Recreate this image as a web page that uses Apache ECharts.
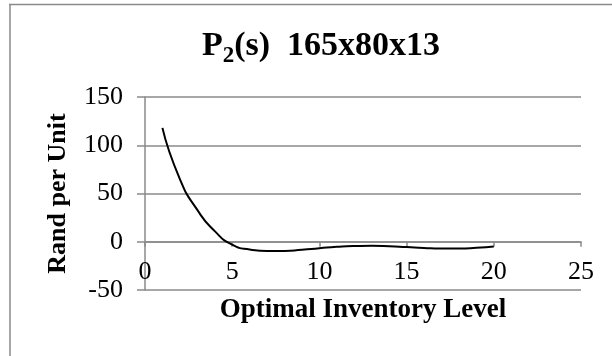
<!DOCTYPE html>
<html>
<head>
<meta charset="utf-8">
<script src="https://cdn.jsdelivr.net/npm/echarts@6/dist/echarts.min.js"></script>
<style>html,body{margin:0;padding:0;background:#fff}#c{width:612px;height:356px}</style>
</head>
<body>
<div id="c"></div>
<script>
var inventoryLevels = [1,2,3,4,5,6,7,8,9,10,11,12,13,14,15,16,17,18,19,20];
var randPerUnit = [118,65,33,11,-3,-8,-9.5,-9.5,-8.3,-6.7,-5.2,-4.4,-4.2,-4.6,-5.5,-6.5,-7,-7,-6.3,-4.8];
var xTicks = {min:0, max:25, interval:5};
var yTicks = {min:-50, max:150, interval:50};
var titleMain = 'P', titleSub = '2', titleRest = '(s)  165x80x13';
var xName = 'Optimal Inventory Level';
var yName = 'Rand per Unit';

var serif = '"Liberation Serif","Times New Roman",serif';
var chart = echarts.init(document.getElementById('c'), null, {renderer:'canvas'});
chart.setOption({
  animation:false,
  backgroundColor:'#fff',
  title:{
    text:'{a|'+titleMain+'}{s|'+titleSub+'}{a|'+titleRest+'}',
    left:316, top:20, textAlign:'center',
    textStyle:{
      rich:{
        a:{fontFamily:serif,fontWeight:'bold',fontSize:34,color:'#000'},
        s:{fontFamily:serif,fontWeight:'bold',fontSize:23,color:'#000',padding:[20,0,0,0]}
      }
    }
  },
  graphic:[
    {type:'line',shape:{x1:9,y1:4.5,x2:612,y2:4.5},style:{stroke:'#8a8a8a',lineWidth:1.5},silent:true},
    {type:'line',shape:{x1:10,y1:4,x2:10,y2:356},style:{stroke:'#8a8a8a',lineWidth:1.5},silent:true}
  ],
  grid:{left:145,right:31,top:97,bottom:66,containLabel:false,outerBoundsMode:'none'},
  xAxis:{
    type:'value',min:xTicks.min,max:xTicks.max,interval:xTicks.interval,
    name:xName,nameLocation:'middle',nameGap:7,nameMoveOverlap:false,
    nameTextStyle:{fontFamily:serif,fontWeight:'bold',fontSize:27,color:'#000',verticalAlign:'top'},
    axisLine:{show:true,onZero:true,lineStyle:{color:'#8a8a8a',width:1.5}},
    axisTick:{show:true,length:5,lineStyle:{color:'#8a8a8a',width:1.5}},
    axisLabel:{fontFamily:serif,fontSize:26,color:'#000',margin:-31},
    splitLine:{show:false}
  },
  yAxis:{
    type:'value',min:yTicks.min,max:yTicks.max,interval:yTicks.interval,
    name:yName,nameLocation:'middle',nameGap:74,
    nameTextStyle:{fontFamily:serif,fontWeight:'bold',fontSize:26,color:'#000'},
    axisLine:{show:true,onZero:false,lineStyle:{color:'#8a8a8a',width:1.5}},
    axisTick:{show:true,length:8,lineStyle:{color:'#8a8a8a',width:1.5}},
    axisLabel:{fontFamily:serif,fontSize:26,color:'#000',margin:22},
    splitLine:{show:true,lineStyle:{color:'#8a8a8a',width:1.5}}
  },
  series:[{
    type:'line',smooth:0.6,showSymbol:false,
    data:inventoryLevels.map(function(x,i){return [x,randPerUnit[i]];}),
    lineStyle:{color:'#000',width:2}
  }]
});
</script>
</body>
</html>
